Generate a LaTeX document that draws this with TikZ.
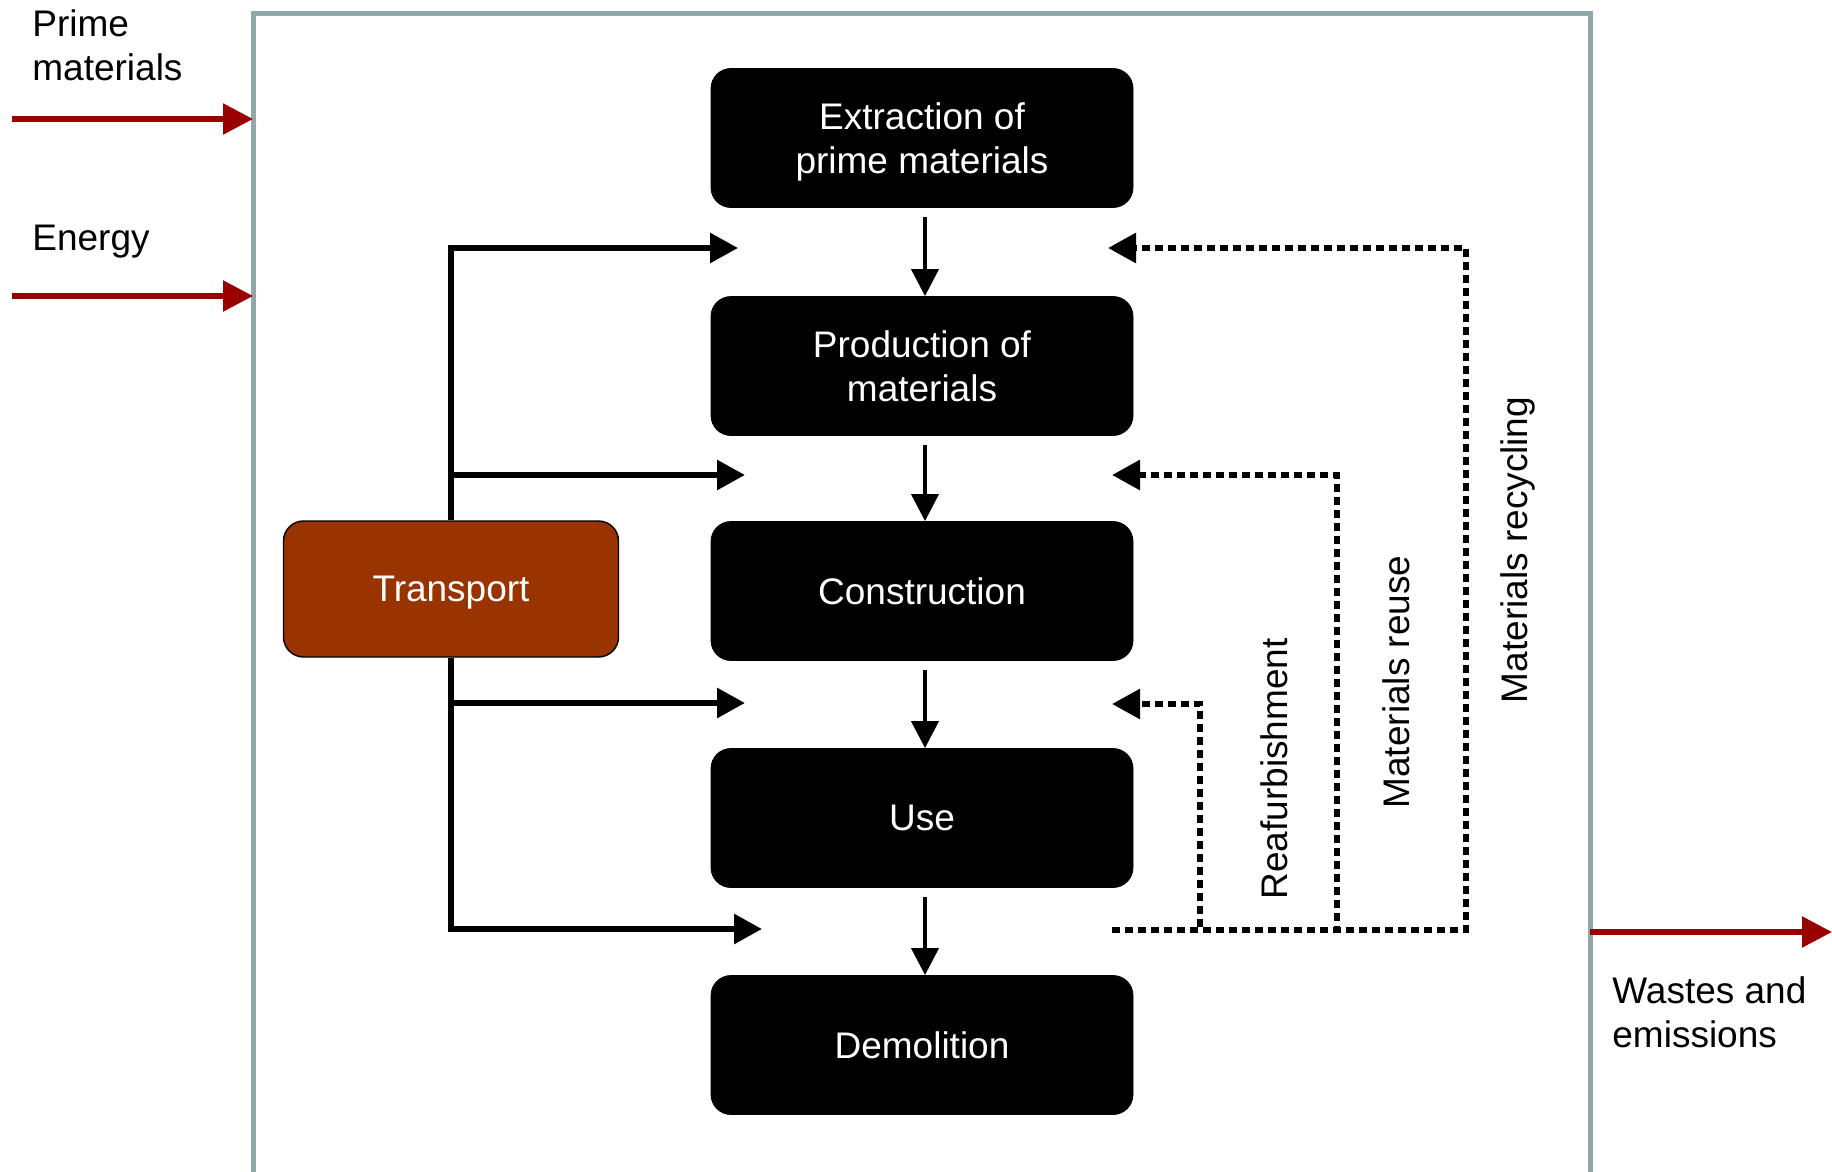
\documentclass[tikz,border=0pt]{standalone}
\usepackage{fontspec}
\setmainfont{Liberation Sans}
\usetikzlibrary{arrows.meta,positioning}
\newcommand\fsz{\fontsize{18.5}{22}\selectfont}
\definecolor{cFrame}{HTML}{8FA9AB}
\definecolor{cFlow} {HTML}{990000}
\definecolor{cTrsp} {HTML}{993300}
\tikzset{
  stage/.style ={draw=black,fill=black,text=white,rounded corners=10pt,align=center,
                 minimum width=211pt,minimum height=69.5pt,inner sep=0pt,text depth=0pt,
                 font=\fsz},
  trsp/.style  ={stage,fill=cTrsp,line width=0.7pt,minimum width=167.5pt,minimum height=68pt},
  lbl/.style   ={font=\fsz,align=left,inner sep=0pt},
  vlbl/.style  ={font=\fsz,inner sep=0pt,rotate=90},
  sig/.style   ={-{Triangle[length=13.5pt,width=13.5pt]},draw=black,line width=2pt},
  feed/.style  ={-{Triangle[length=14pt,width=14.5pt]},draw=black,line width=3pt},
  rtn/.style   ={feed,line width=3pt,dash pattern=on 4pt off 2.5pt},
  io/.style    ={-{Triangle[length=15pt,width=15pt]},draw=cFlow,line width=2.8pt},
  frm/.style   ={draw=cFrame,line width=2.5pt},
}

\begin{document}
\begin{tikzpicture}[x=0.5pt,y=0.5pt]
\useasboundingbox (0,0) rectangle (1832,-1172);

% system boundary, open at the bottom
\coordinate (fTL) at (253,-14);
\coordinate (fTR) at (1590,-14);
\draw[frm] (fTL |- 0,-1180) -- (fTL) -- (fTR) -- (fTR |- 0,-1180);

\node[stage] (extr) at (922,-138) {Extraction of\\prime materials};
\node[stage] (prod) at (922,-366) {Production of\\materials};
\node[stage] (cons) at (922,-591) {Construction};
\node[stage] (use)  at (922,-818) {Use};
\node[stage] (demo) at (922,-1045) {Demolition};
\node[trsp]  (trsp) at (451,-589) {Transport};

\foreach \a/\b in {extr/prod,prod/cons,cons/use,use/demo}
  \draw[sig] ([xshift=1.5pt,yshift=-4.5pt]\a.south) -- ([xshift=1.5pt]\b.north);

% transport feeds into every gap
\coordinate (tL1) at (738,-248);
\coordinate (tL2) at (745,-475);
\coordinate (tL3) at (745,-703);
\coordinate (tL4) at (762,-929);
\draw[feed] (trsp.north) |- (tL1);
\draw[feed] (trsp.north |- tL2) -- (tL2);
\draw[feed] (trsp.south |- tL3) -- (tL3);
\draw[feed] (trsp.south) |- (tL4);

% loops back from use
\coordinate (rs)  at (1112,-930);
\coordinate (tR1) at (1108,-248);
\coordinate (tR2) at (1112,-475);
\coordinate (tR3) at (1112,-704);
\draw[rtn] (rs) -- (1200,-930) |- (tR3);
\draw[rtn] (rs) -- (1337,-930) |- (tR2);
\draw[rtn] (rs) -- (1466,-930) |- (tR1);
\node[vlbl] (lRef) at (1274,-769) {Reafurbishment};
\node[vlbl] (lReu) at (1396,-682) {Materials reuse};
\node[vlbl] (lRec) at (1518,-550) {Materials recycling};

% inputs and outputs
\coordinate (pmIn) at (12,-119);
\coordinate (enIn) at (12,-296);
\coordinate (wsOut) at (1832,-932);
\draw[io] (pmIn) -- (pmIn -| fTL);
\draw[io] (enIn) -- (enIn -| fTL);
\draw[io] (wsOut -| fTR) -- (wsOut);
\node[lbl,anchor=north west] (lPm) at (32,-9.5) {Prime\\materials};
\node[lbl,anchor=north west] (lEn) at (32,-224.5) {Energy};
\node[lbl,anchor=north west] (lWs) at (1612,-976.5) {Wastes and\\emissions};
\end{tikzpicture}
\end{document}
